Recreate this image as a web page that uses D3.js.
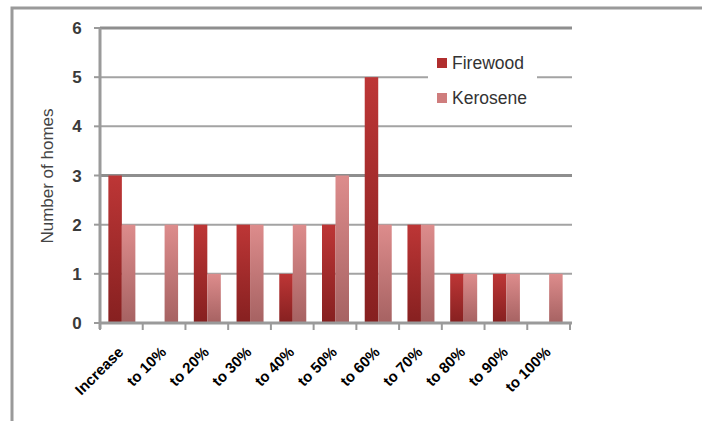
<!DOCTYPE html>
<html>
<head>
<meta charset="utf-8">
<script src="https://cdn.jsdelivr.net/npm/d3@7"></script>
<style>
  html, body { margin: 0; padding: 0; background: #fff; }
  svg { display: block; }
</style>
</head>
<body>
<svg id="chart" width="702" height="421"></svg>
<script>
const categories = ["Increase", "to 10%", "to 20%", "to 30%", "to 40%", "to 50%", "to 60%", "to 70%", "to 80%", "to 90%", "to 100%"];
const firewood = [3, 0, 2, 2, 1, 2, 5, 2, 1, 1, 0];
const kerosene = [2, 2, 1, 2, 2, 3, 2, 2, 1, 1, 1];
const seriesNames = ["Firewood", "Kerosene"];
const yTicks = [0, 1, 2, 3, 4, 5, 6];

const svg = d3.select("#chart");
const pLeft = 100, pRight = 570, pTop = 28, pBottom = 323;

// outer border
svg.append("rect").attr("x", 12).attr("y", 8).attr("width", 800).attr("height", 500)
  .attr("fill", "none").attr("stroke", "#9a9a9a").attr("stroke-width", 3);

const x = d3.scaleBand().domain(categories).range([pLeft, pRight]).paddingInner(0).paddingOuter(0);
const y = d3.scaleLinear().domain([0, 6]).range([pBottom, pTop]);

const defs = svg.append("defs");
function grad(id, c1, c2) {
  const g = defs.append("linearGradient").attr("id", id).attr("x1", 0).attr("y1", 0).attr("x2", 0).attr("y2", 1);
  g.append("stop").attr("offset", "0%").attr("stop-color", c1);
  g.append("stop").attr("offset", "100%").attr("stop-color", c2);
}
grad("gF", "#bd3636", "#862020");
grad("gK", "#dd8c8c", "#a66262");

// gridlines
svg.append("g").selectAll("line").data(yTicks.filter(d => d > 0)).join("line")
  .attr("x1", pLeft).attr("x2", pRight + 2)
  .attr("y1", d => y(d)).attr("y2", d => y(d))
  .attr("stroke", d => (d === 3 || d === 6) ? "#8e8e8e" : "#a3a3a3")
  .attr("stroke-width", d => (d === 3 || d === 6) ? 3 : 2);

// bars
const bw = 13.5;
const g = svg.append("g");
function drawSeries(vals, fill, offset) {
  g.selectAll(null).data(vals).join("rect")
    .attr("x", (d, i) => x(categories[i]) + x.bandwidth() / 2 + offset)
    .attr("y", d => y(d))
    .attr("width", bw)
    .attr("height", d => y(0) - y(d))
    .attr("fill", fill);
}
drawSeries(firewood, "url(#gF)", -bw + 0.5);
drawSeries(kerosene, "url(#gK)", 0.5);

// legend
const lg = svg.append("g");
lg.append("rect").attr("x", 428).attr("y", 45).attr("width", 109).attr("height", 72).attr("fill", "#fff");
const legendFills = ["#b02e2e", "#cf7d7d"];
seriesNames.forEach((n, i) => {
  const yy = 58 + i * 35;
  lg.append("rect").attr("x", 437).attr("y", yy).attr("width", 10).attr("height", 10).attr("fill", legendFills[i]);
  lg.append("text").attr("x", 452).attr("y", yy + 11).text(n)
    .attr("font-family", "Liberation Sans, Arial, sans-serif").attr("font-size", 17.5).attr("fill", "#333");
});

// y axis line
svg.append("line").attr("x1", pLeft).attr("x2", pLeft).attr("y1", pTop).attr("y2", pBottom + 6)
  .attr("stroke", "#9a9a9a").attr("stroke-width", 3);
// x axis line
svg.append("line").attr("x1", pLeft).attr("x2", pRight + 2).attr("y1", pBottom).attr("y2", pBottom)
  .attr("stroke", "#9a9a9a").attr("stroke-width", 3);

// y ticks
svg.append("g").selectAll("line").data(yTicks).join("line")
  .attr("x1", pLeft - 6).attr("x2", pLeft).attr("y1", d => y(d)).attr("y2", d => y(d))
  .attr("stroke", "#9a9a9a").attr("stroke-width", 2);
svg.append("g").selectAll("text").data(yTicks).join("text")
  .attr("x", 77).attr("y", d => y(d)).attr("dy", "0.36em")
  .attr("text-anchor", "middle")
  .attr("font-family", "Liberation Sans, Arial, sans-serif").attr("font-size", 17).attr("font-weight", "bold")
  .attr("fill", "#3a3a3a").text(d => d);

// x ticks
const bounds = categories.map(c => x(c)).concat([pRight]);
svg.append("g").selectAll("line").data(bounds).join("line")
  .attr("x1", d => d).attr("x2", d => d).attr("y1", pBottom).attr("y2", pBottom + 7)
  .attr("stroke", "#9a9a9a").attr("stroke-width", 2);

// x labels
svg.append("g").selectAll("text").data(categories).join("text")
  .attr("transform", c => `translate(${x(c) + x.bandwidth() / 2 + 3},353) rotate(-45)`)
  .attr("text-anchor", "end")
  .attr("font-family", "Liberation Sans, Arial, sans-serif").attr("font-size", 15).attr("font-weight", "bold")
  .attr("fill", "#000").text(c => c);

// y title
svg.append("text").attr("transform", "translate(53,176) rotate(-90)")
  .attr("text-anchor", "middle")
  .attr("font-family", "Liberation Sans, Arial, sans-serif").attr("font-size", 17)
  .attr("fill", "#444").text("Number of homes");
</script>
</body>
</html>
